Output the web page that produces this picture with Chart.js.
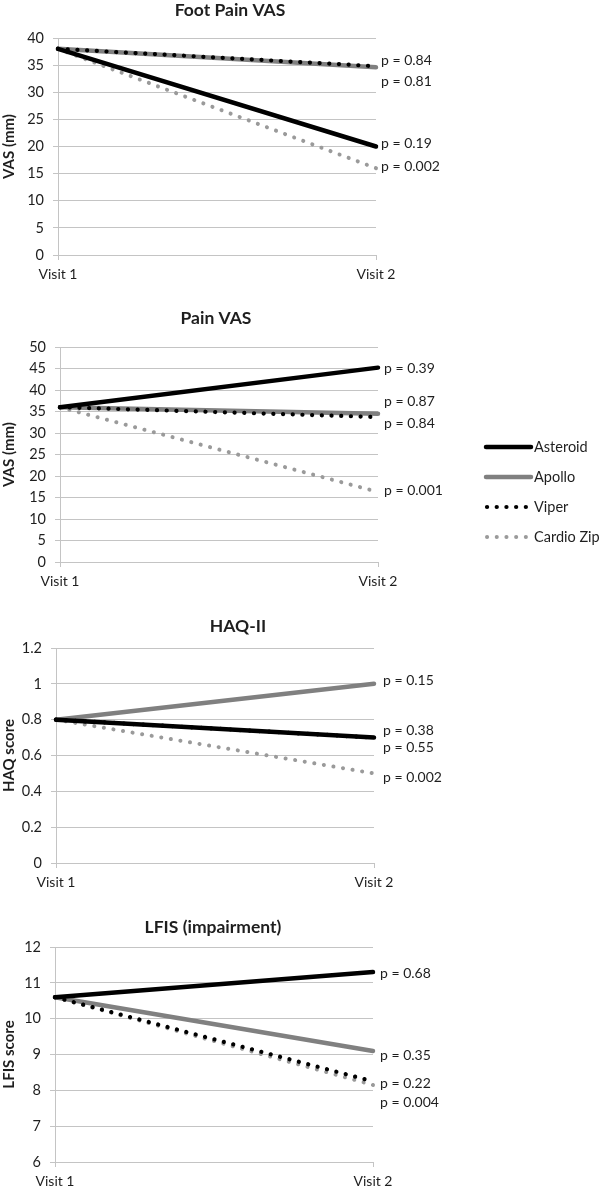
<!DOCTYPE html>
<html><head><meta charset="utf-8">
<script src="https://cdn.jsdelivr.net/npm/chart.js@4"></script>
<style>
html,body{margin:0;padding:0;background:#fff;}
#wrap{position:relative;width:600px;height:1189px;overflow:hidden;}
canvas{position:absolute;left:0;}
</style></head><body><div id="wrap">
<canvas id="c1" width="600" height="290" style="top:0px"></canvas>
<canvas id="c2" width="600" height="310" style="top:290px"></canvas>
<canvas id="c3" width="600" height="300" style="top:600px"></canvas>
<canvas id="c4" width="600" height="289" style="top:900px"></canvas>
</div>
<script>
// ---------- data ----------
const categories = ['Visit 1', 'Visit 2'];
const seriesNames = ['Asteroid', 'Apollo', 'Viper', 'Cardio Zip'];

const footPainAsteroid = [38, 20];
const footPainApollo   = [38, 34.6];
const footPainViper    = [38, 34.8];
const footPainCardio   = [38, 16];
const footPainYTicks   = [0, 5, 10, 15, 20, 25, 30, 35, 40];
const footPainP        = ['p = 0.84', 'p = 0.81', 'p = 0.19', 'p = 0.002'];
const footPainPAt      = [35.9, 31.9, 20.6, 16.4];

const painAsteroid = [36, 45.2];
const painApollo   = [36, 34.5];
const painViper    = [36, 33.7];
const painCardio   = [36, 16.3];
const painYTicks   = [0, 5, 10, 15, 20, 25, 30, 35, 40, 45, 50];
const painP        = ['p = 0.39', 'p = 0.87', 'p = 0.84', 'p = 0.001'];
const painPAt      = [45.1, 37.4, 32.3, 16.7];

const haqAsteroid = [0.8, 0.7];
const haqApollo   = [0.8, 1.0];
const haqViper    = [0.8, 0.7];
const haqCardio   = [0.8, 0.5];
const haqYTicks   = [0, 0.2, 0.4, 0.6, 0.8, 1, 1.2];
const haqP        = ['p = 0.15', 'p = 0.38', 'p = 0.55', 'p = 0.002'];
const haqPAt      = [1.016, 0.741, 0.646, 0.48];

const lfisAsteroid = [10.6, 11.3];
const lfisApollo   = [10.6, 9.1];
const lfisViper    = [10.6, 8.25];
const lfisCardio   = [10.6, 8.15];
const lfisYTicks   = [6, 7, 8, 9, 10, 11, 12];
const lfisP        = ['p = 0.68', 'p = 0.35', 'p = 0.22', 'p = 0.004'];
const lfisPAt      = [11.27, 8.98, 8.2, 7.67];

// ---------- styles ----------
const TXT = '#1e1e1e';
const GRID = '#c4c4c4';
const styles = [
  { color: '#000000', width: 4.5, dash: [], cap: 'round', order: 0 },
  { color: '#808080', width: 4.5, dash: [], cap: 'round', order: 2 },
  { color: '#000000', width: 4.2, dash: [0.1, 9.6], cap: 'round', order: 1 },
  { color: '#9a9a9a', width: 4.0, dash: [0.1, 9.6], cap: 'round', order: 3 }
];
Chart.defaults.font.family = 'Lato';
Chart.defaults.font.size = 14;
Chart.defaults.color = TXT;

function legendPlugin(offsetTop) {
  return {
    id: 'sharedLegend',
    afterDraw(chart) {
      const c = chart.ctx;
      c.save();
      c.font = '14.5px Lato';
      c.textAlign = 'left';
      c.textBaseline = 'middle';
      seriesNames.forEach((name, i) => {
        const y = 447 + i * 30 - offsetTop;
        const s = styles[i];
        c.beginPath();
        c.strokeStyle = s.color;
        c.lineWidth = s.width;
        c.lineCap = s.cap;
        c.setLineDash(s.dash);
        if (s.dash.length) { c.moveTo(487, y); c.lineTo(531, y); }
        else { c.moveTo(486, y); c.lineTo(531, y); }
        c.stroke();
        c.setLineDash([]);
        c.fillStyle = TXT;
        c.fillText(name, 534, y);
      });
      c.restore();
    }
  };
}

function makePanel(id, L, series, yTicks, pTexts, pAt, title, yTitle, extra) {
  const datasets = seriesNames.map((name, i) => ({
    label: name,
    data: series[i],
    borderColor: styles[i].color,
    backgroundColor: styles[i].color,
    borderWidth: styles[i].width,
    borderDash: styles[i].dash,
    borderCapStyle: styles[i].cap,
    order: styles[i].order,
    pointRadius: 0,
    tension: 0,
    fill: false,
    clip: 8
  }));
  const annot = {
    id: 'annot',
    afterDraw(chart) {
      const c = chart.ctx, a = chart.chartArea, y = chart.scales.y;
      c.save();
      c.fillStyle = TXT;
      c.font = 'bold 17.5px Lato';
      c.textAlign = 'center';
      c.textBaseline = 'middle';
      c.fillText(title, L.titleX, L.titleY);
      c.font = '14px Lato';
      c.textAlign = 'left';
      pTexts.forEach((t, i) => c.fillText(t, a.right + L.pGap, y.getPixelForValue(pAt[i])));
      c.restore();
    }
  };
  new Chart(document.getElementById(id), {
    type: 'line',
    data: { labels: categories, datasets },
    options: {
      responsive: false,
      animation: false,
      events: [],
      layout: { padding: { left: 0, right: 600 - L.right, top: L.top, bottom: 0 } },
      plugins: { legend: { display: false }, tooltip: { enabled: false }, title: { display: false } },
      scales: {
        x: {
          type: 'category',
          offset: false,
          grid: { display: true, drawOnChartArea: false, drawTicks: true, tickLength: 5, color: GRID },
          border: { display: true, color: GRID },
          ticks: { padding: 6, color: TXT, font: { size: 14 }, maxRotation: 0, autoSkip: false },
          afterFit: s => { s.height = L.h - L.bottom; }
        },
        y: {
          min: yTicks[0],
          max: yTicks[yTicks.length - 1],
          afterBuildTicks: s => { s.ticks = yTicks.map(v => ({ value: v })); },
          grid: { color: GRID, tickLength: 5, drawTicks: true },
          border: { display: true, color: GRID },
          ticks: { padding: 9, color: TXT, font: { size: 14.5 }, callback: v => String(v) },
          title: { display: true, text: yTitle, color: TXT, font: { size: 15, weight: 'bold' }, padding: { top: 0, bottom: 0 } },
          afterFit: s => { s.width = L.left; }
        }
      }
    },
    plugins: [annot].concat(extra || [])
  });
}

makePanel('c1', { h: 290, left: 58, right: 376, top: 38, bottom: 255, titleX: 230, titleY: 10, pGap: 5 },
  [footPainAsteroid, footPainApollo, footPainViper, footPainCardio], footPainYTicks, footPainP, footPainPAt,
  'Foot Pain VAS', 'VAS (mm)');
makePanel('c2', { h: 310, left: 60, right: 378, top: 57, bottom: 272, titleX: 216, titleY: 28, pGap: 6 },
  [painAsteroid, painApollo, painViper, painCardio], painYTicks, painP, painPAt,
  'Pain VAS', 'VAS (mm)', [legendPlugin(290)]);
makePanel('c3', { h: 300, left: 56, right: 374, top: 48, bottom: 263, titleX: 238, titleY: 26, pGap: 9 },
  [haqAsteroid, haqApollo, haqViper, haqCardio], haqYTicks, haqP, haqPAt,
  'HAQ-II', 'HAQ score');
makePanel('c4', { h: 289, left: 55, right: 373, top: 47, bottom: 262, titleX: 213, titleY: 27, pGap: 7 },
  [lfisAsteroid, lfisApollo, lfisViper, lfisCardio], lfisYTicks, lfisP, lfisPAt,
  'LFIS (impairment)', 'LFIS score');
</script>
</body></html>
